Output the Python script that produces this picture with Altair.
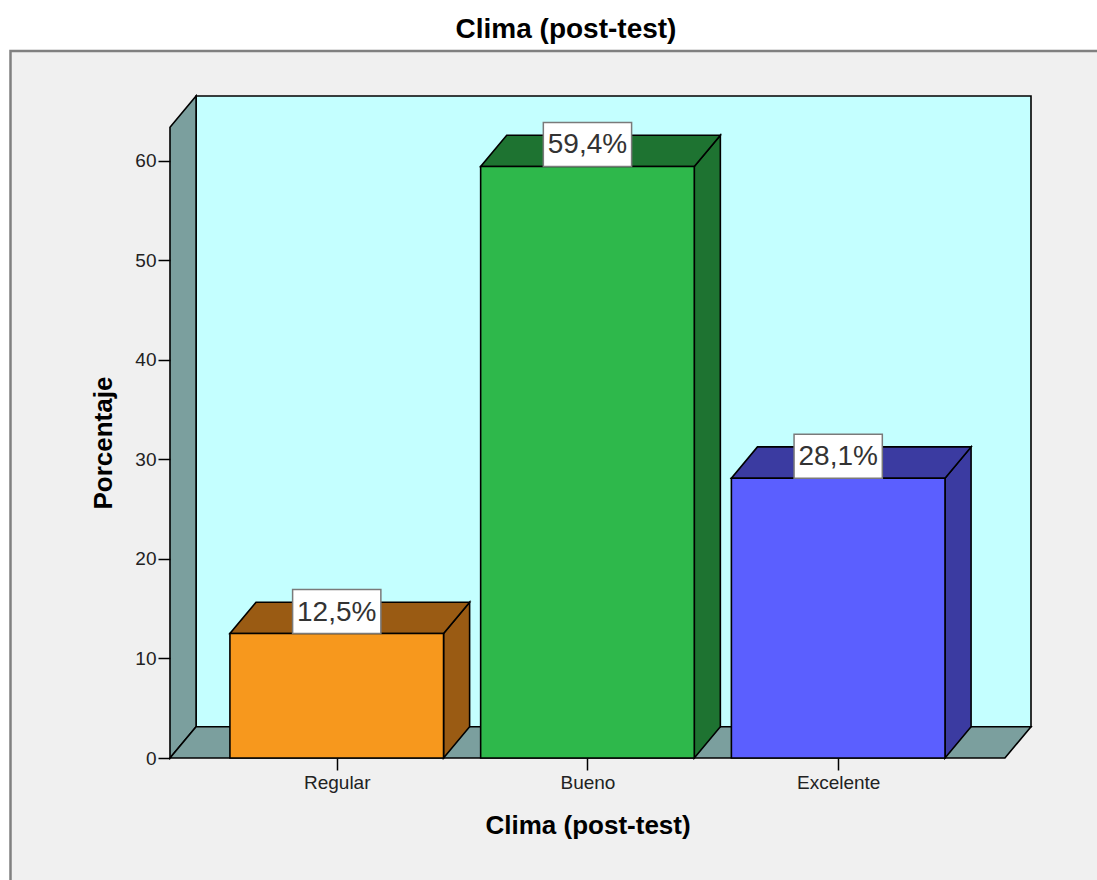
import json
import altair as alt
import pandas as pd

# Values shown in the chart
categorias = ["Regular", "Bueno", "Excelente"]
porcentajes = [12.5, 59.4, 28.1]
etiquetas = ["12,5%", "59,4%", "28,1%"]
color_frente = ["#f7981d", "#2eb84b", "#5b5fff"]
color_sombra = ["#9a5b13", "#1e7331", "#3b3ba1"]
ticks_y = [0, 10, 20, 30, 40, 50, 60]
titulo = "Clima (post-test)"

FUENTE = "Liberation Sans"

# 3D box geometry, in scale units (x: category steps, y: percent)
MEDIO = 0.426          # half width of a bar
PROF_X = 0.104         # depth offset along x
PROF_Y = 3.14          # depth offset along y
X_MIN = -0.665
X_FRENTE_MAX = len(categorias) - 1 + 0.665
X_MAX = X_FRENTE_MAX + PROF_X
Y_FRENTE_MAX = 63.34
Y_MAX = Y_FRENTE_MAX + PROF_Y
PX_X = 250.8           # pixels per category step
PX_Y = 9.96            # pixels per percent
W = round((X_MAX - X_MIN) * PX_X)
H = round(Y_MAX * PX_Y)
CAJA_MEDIO = 0.176     # half width of a value label box
CAJA_ALTO = 4.42       # height of a value label box

# ---- tables built from the arrays above ----
fondo = pd.DataFrame([{"x": X_MIN + PROF_X, "x2": X_MAX, "y": PROF_Y, "y2": Y_MAX}])

paredes = pd.DataFrame([
    # left wall
    {"cara": "izq", "x": X_MIN, "y": 0, "y2": Y_FRENTE_MAX},
    {"cara": "izq", "x": X_MIN + PROF_X, "y": PROF_Y, "y2": Y_MAX},
    # floor
    {"cara": "piso", "x": X_MIN, "y": 0, "y2": 0},
    {"cara": "piso", "x": X_MIN + PROF_X, "y": 0, "y2": PROF_Y},
    {"cara": "piso", "x": X_FRENTE_MAX, "y": 0, "y2": PROF_Y},
    {"cara": "piso", "x": X_MAX, "y": PROF_Y, "y2": PROF_Y},
])

caras = []
frentes = []
cajas = []
for i, (cat, v) in enumerate(zip(categorias, porcentajes)):
    izq, der = i - MEDIO, i + MEDIO
    # right side face
    caras += [
        {"cara": f"lado-{cat}", "color": color_sombra[i], "x": der, "y": 0, "y2": v},
        {"cara": f"lado-{cat}", "color": color_sombra[i], "x": der + PROF_X, "y": PROF_Y, "y2": v + PROF_Y},
    ]
    # top face
    caras += [
        {"cara": f"tapa-{cat}", "color": color_sombra[i], "x": izq, "y": v, "y2": v},
        {"cara": f"tapa-{cat}", "color": color_sombra[i], "x": izq + PROF_X, "y": v, "y2": v + PROF_Y},
        {"cara": f"tapa-{cat}", "color": color_sombra[i], "x": der, "y": v, "y2": v + PROF_Y},
        {"cara": f"tapa-{cat}", "color": color_sombra[i], "x": der + PROF_X, "y": v + PROF_Y, "y2": v + PROF_Y},
    ]
    frentes.append({"categoria": cat, "color": color_frente[i], "x": izq, "x2": der, "y": 0, "y2": v})
    cajas.append({"texto": etiquetas[i], "xc": i, "x": i - CAJA_MEDIO, "x2": i + CAJA_MEDIO,
                  "y": v, "y2": v + CAJA_ALTO, "yc": v + CAJA_ALTO / 2})

caras = pd.DataFrame(caras)
frentes = pd.DataFrame(frentes)
cajas = pd.DataFrame(cajas)

# ---- shared scales and axes ----
xs = alt.Scale(domain=[X_MIN, X_MAX], nice=False, zero=False)
ys = alt.Scale(domain=[0, Y_MAX], nice=False, zero=False)

eje_x = alt.Axis(
    values=list(range(len(categorias))),
    labelExpr=f"{json.dumps(categorias)}[datum.value]",
    domain=False, grid=False, zindex=2,
    tickSize=12, tickColor="black", tickWidth=1.5,
    labelFont=FUENTE, labelFontSize=19, labelColor="#222", labelPadding=3,
    title=titulo, titleFont=FUENTE, titleFontSize=26, titleFontWeight="bold",
    titleColor="black", titleX=(0 - X_MIN) * PX_X + PX_X, titleY=75,
    titleAlign="center", titleBaseline="alphabetic",
)
eje_y = alt.Axis(
    values=ticks_y,
    domain=False, grid=False, zindex=2,
    tickSize=12, tickColor="black", tickWidth=1.5,
    labelFont=FUENTE, labelFontSize=19, labelColor="#222", labelPadding=2,
    title="Porcentaje", titleFont=FUENTE, titleFontSize=26, titleFontWeight="bold",
    titleColor="black", titleX=-67, titleY=H - Y_FRENTE_MAX * PX_Y / 2,
    titleAngle=270, titleAlign="center", titleBaseline="middle",
)

X = alt.X("x:Q", scale=xs, axis=eje_x)
Y = alt.Y("y:Q", scale=ys, axis=eje_y, stack=None)

# outer grey frame behind the chart, with the chart title above it
marco = alt.Chart(pd.DataFrame([{"k": 0}])).mark_rect(
    fill="#f0f0f0", stroke="#808080", strokeWidth=2.5
).encode(
    x=alt.value(-159.5), x2=alt.value(W + 300),
    y=alt.value(-45), y2=alt.value(H + 300),
)

encabezado = alt.Chart(pd.DataFrame([{"t": titulo}])).mark_text(
    font=FUENTE, fontSize=28, fontWeight="bold", color="black",
    align="center", baseline="alphabetic",
).encode(x=alt.value(566 - 170), y=alt.value(38 - 96), text="t:N")

pared_fondo = alt.Chart(fondo).mark_rect(
    fill="#c4ffff", stroke="black", strokeWidth=1.6
).encode(x=X, x2="x2:Q", y=Y, y2="y2:Q")

pared_lados = alt.Chart(paredes).mark_area(
    fill="#7b9f9e", stroke="black", strokeWidth=1.6, opacity=1
).encode(x=X, y=Y, y2="y2:Q", detail="cara:N")

caras_3d = alt.Chart(caras).mark_area(
    stroke="black", strokeWidth=1.6, opacity=1
).encode(
    x=X, y=Y, y2="y2:Q", detail="cara:N",
    fill=alt.Fill("color:N", scale=None),
)

barras = alt.Chart(frentes).mark_rect(
    stroke="black", strokeWidth=1.6
).encode(
    x=X, x2="x2:Q", y=Y, y2="y2:Q",
    fill=alt.Fill("color:N", scale=None),
)

cajas_etiqueta = alt.Chart(cajas).mark_rect(
    fill="white", stroke="#7a7a7a", strokeWidth=1.5
).encode(x=X, x2="x2:Q", y=Y, y2="y2:Q")

textos = alt.Chart(cajas).mark_text(
    font=FUENTE, fontSize=28, color="#333333", baseline="middle", align="center", dy=1
).encode(
    x=alt.X("xc:Q", scale=xs, axis=eje_x),
    y=alt.Y("yc:Q", scale=ys, axis=eje_y),
    text="texto:N",
)

chart = alt.layer(
    marco, encabezado, pared_fondo, pared_lados, caras_3d, barras, cajas_etiqueta, textos
).properties(
    width=W,
    height=H,
    autosize=alt.AutoSizeParams(type="none"),
    padding={"left": 170, "top": 96, "right": 1097 - 170 - W, "bottom": 880 - 96 - H},
    background="white",
).configure_view(stroke=None)

chart.save("out.html", embed_options={"renderer": "svg", "actions": False})
